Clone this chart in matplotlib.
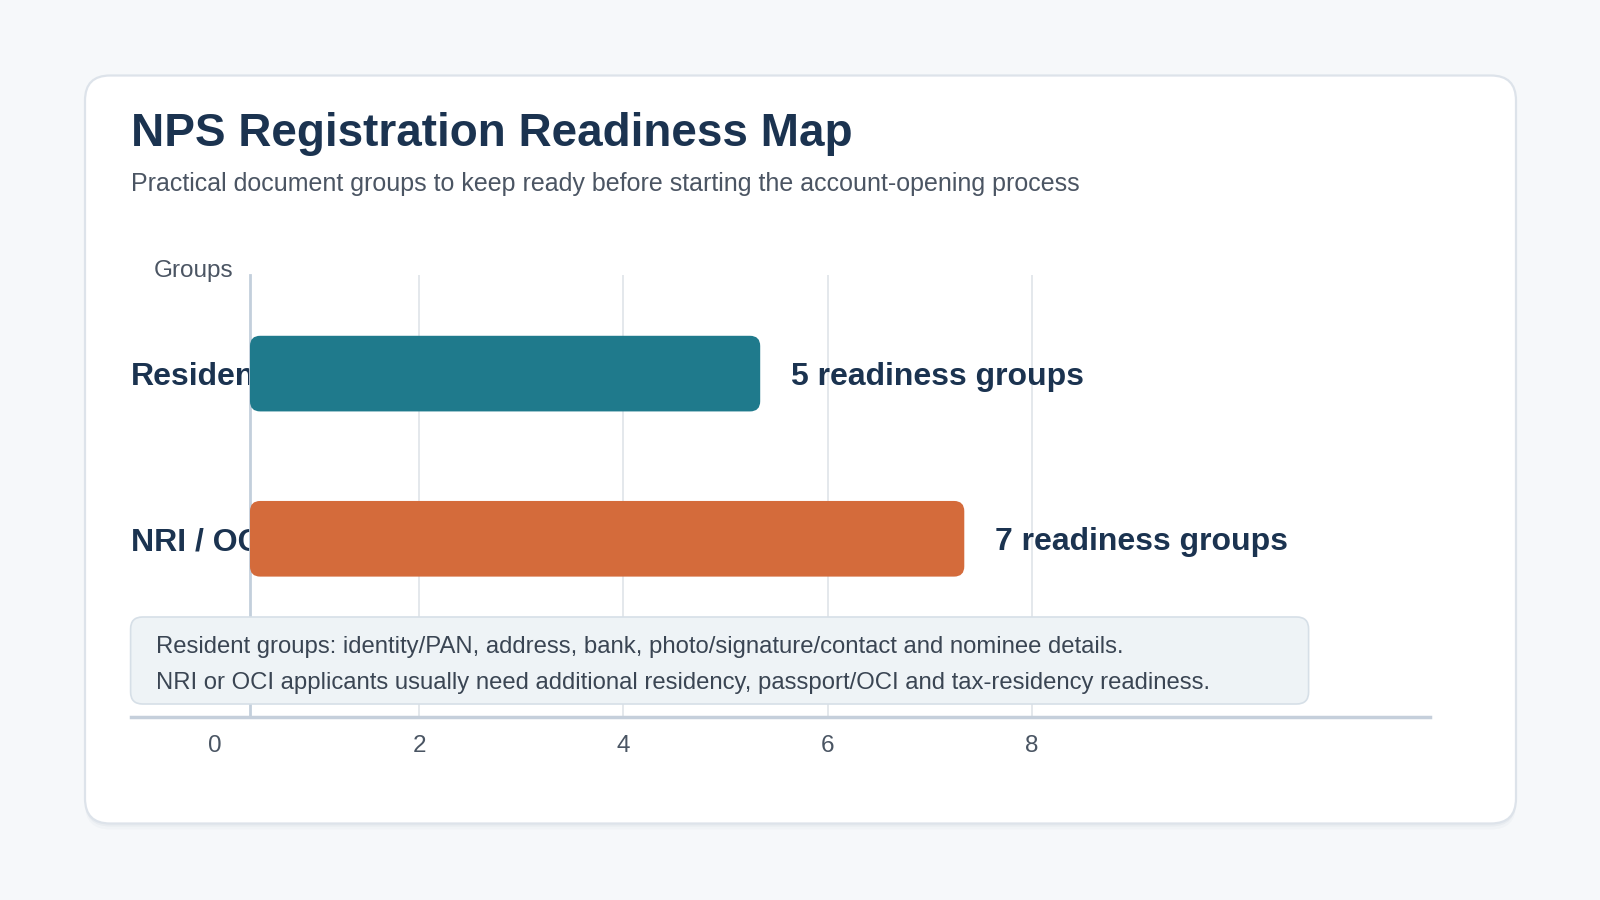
import matplotlib
matplotlib.use('Agg')
import matplotlib.pyplot as plt
from matplotlib.patches import FancyBboxPatch
import matplotlib.transforms as mtransforms

# data
categories = ['Resident', 'NRI / OCI']
group_counts = [5, 7]
bar_colors = ['#1f7a8c', '#d46b3b']
x_ticks = [0, 2, 4, 6, 8]
notes = [
    'Resident groups: identity/PAN, address, bank, photo/signature/contact and nominee details.',
    'NRI or OCI applicants usually need additional residency, passport/OCI and tax-residency readiness.',
]
title = 'NPS Registration Readiness Map'
subtitle = 'Practical document groups to keep ready before starting the account-opening process'

plt.rcParams['font.family'] = ['Liberation Sans', 'DejaVu Sans']

W, H = 1600, 900
fig = plt.figure(figsize=(16, 9), dpi=100)
fig.patch.set_facecolor('#f6f8fa')
inch = fig.dpi_scale_trans

# card with a soft shadow
for off, a in [(0.06, 0.025), (0.03, 0.035)]:
    sh = FancyBboxPatch((0.85, 0.765 - off), 14.31, 7.48, boxstyle='round,pad=0,rounding_size=0.25',
                        transform=inch, fc='#1b3350', ec='none', alpha=a, zorder=0)
    fig.add_artist(sh)
card = FancyBboxPatch((0.85, 0.765), 14.31, 7.48, boxstyle='round,pad=0,rounding_size=0.25',
                      transform=inch, fc='white', ec='#dde3ea', lw=1.6, zorder=0)
fig.add_artist(card)

# plot area
left_px, right_px, top_px, bot_px = 130.6, 1429.6, 275.5, 717
ax = fig.add_axes([left_px / W, 1 - bot_px / H, (right_px - left_px) / W, (bot_px - top_px) / H])
ax.set_facecolor('none')
xlim = (-0.83, 11.9)
ylim = (2.079, -0.594)
ax.set_xlim(*xlim)
ax.set_ylim(*ylim)

base = 0.34
bar_h = 0.458
ypos = list(range(len(categories)))
px_x = (right_px - left_px) / (xlim[1] - xlim[0])
px_y = (bot_px - top_px) / abs(ylim[0] - ylim[1])

bars = ax.barh(ypos, group_counts, left=base, height=bar_h, color=bar_colors)
for rect, c in zip(bars, bar_colors):
    rect.set_visible(False)
    rb = FancyBboxPatch((rect.get_x(), rect.get_y()), rect.get_width(), rect.get_height(),
                        boxstyle='round,pad=0,rounding_size=0.1', mutation_aspect=px_x / px_y,
                        fc=c, ec='none', zorder=3)
    ax.add_patch(rb)

# category labels sit under the bars
lab_tr = mtransforms.blended_transform_factory(ax.transAxes, ax.transData)
for y, cat in zip(ypos, categories):
    ax.text(0, y, cat, transform=lab_tr, ha='left', va='center_baseline', fontsize=23,
            fontweight='bold', color='#1b3350', zorder=2)

for y, v in zip(ypos, group_counts):
    ax.text(base + v + 0.3, y, f'{v} readiness groups', ha='left', va='center_baseline',
            fontsize=23, fontweight='bold', color='#1b3350', zorder=4)

for t in x_ticks[1:]:
    ax.axvline(t, color='#e2e6eb', lw=1.3, zorder=1)

for s in ['top', 'right']:
    ax.spines[s].set_visible(False)
ax.spines['left'].set_position(('data', base))
ax.spines['left'].set_color('#c3cfdc')
ax.spines['left'].set_linewidth(2)
ax.spines['bottom'].set_color('#c5cfdb')
ax.spines['bottom'].set_linewidth(2.5)

ax.set_xticks(x_ticks)
ax.set_yticks([])
ax.tick_params(axis='x', length=0, pad=13, labelsize=17.5, labelcolor='#4a5563')

# note box
note_box = FancyBboxPatch((1.306, 1.96), 11.78, 0.87, boxstyle='round,pad=0,rounding_size=0.12',
                          transform=inch, fc='#eef3f6', ec='#d6dfe7', lw=1.2, zorder=5, clip_on=False)
ax.add_artist(note_box)
for yy, line in zip([647, 682.6], notes):
    fig.text(156 / W, 1 - yy / H, line, ha='left', va='center', fontsize=17.2,
             color='#3a4553', zorder=6)

fig.text(left_px / W, 1 - 146 / H, title, ha='left', va='baseline', fontsize=33,
         fontweight='bold', color='#1b3350')
fig.text(left_px / W, 1 - 190.5 / H, subtitle, ha='left', va='baseline', fontsize=18,
         color='#4b5563')
fig.text(233.5 / W, 1 - 271 / H, 'Groups', ha='right', va='center', fontsize=17.5,
         color='#4b5563')

fig.savefig('out.png', dpi=100, facecolor=fig.get_facecolor())
